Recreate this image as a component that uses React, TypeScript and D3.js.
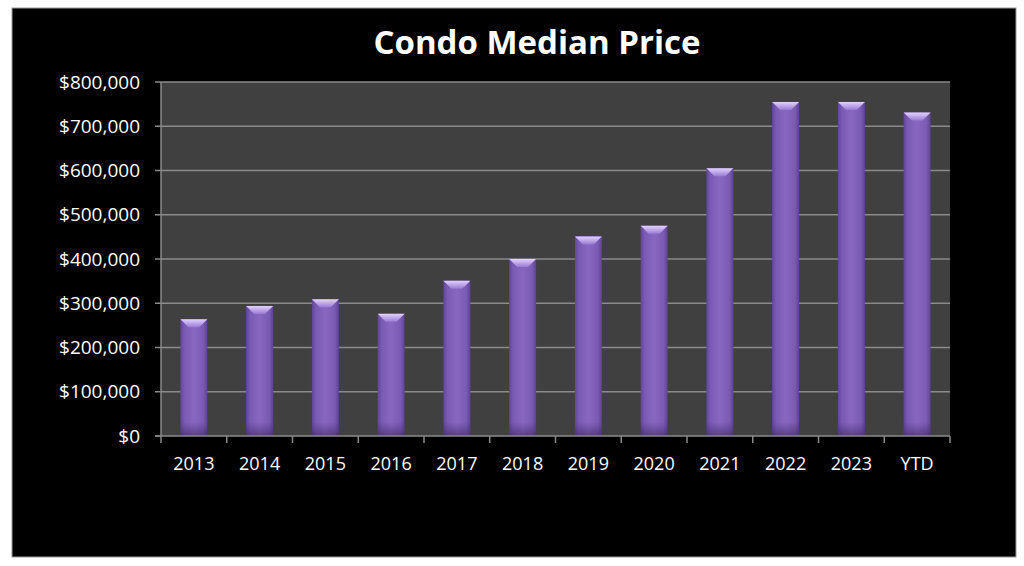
import React, { useRef, useEffect } from "react";
import * as d3 from "d3";

const categories = ["2013", "2014", "2015", "2016", "2017", "2018", "2019", "2020", "2021", "2022", "2023", "YTD"];
const medianPrice = [264000, 294000, 309000, 276000, 351000, 400000, 451000, 475000, 605000, 755000, 755000, 731000];
const yTickValues = [0, 100000, 200000, 300000, 400000, 500000, 600000, 700000, 800000];

const W = 1024;
const H = 566;
const plot = { left: 161, right: 950, top: 82, bottom: 436 };
const FONT = "'Open Sans', sans-serif";

const App: React.FC = () => {
  const svgRef = useRef<SVGSVGElement>(null);

  useEffect(() => {
    if (!svgRef.current) return;
    const svg = d3.select(svgRef.current);
    svg.selectAll("*").remove();

    const defs = svg.append("defs");
    const body = defs
      .append("linearGradient")
      .attr("id", "barBody")
      .attr("x1", "0")
      .attr("x2", "1")
      .attr("y1", "0")
      .attr("y2", "0");
    body.append("stop").attr("offset", "0").attr("stop-color", "#62449a");
    body.append("stop").attr("offset", "0.15").attr("stop-color", "#7a5bb4");
    body.append("stop").attr("offset", "0.5").attr("stop-color", "#8867c0");
    body.append("stop").attr("offset", "0.85").attr("stop-color", "#7a5bb4");
    body.append("stop").attr("offset", "1").attr("stop-color", "#5e4294");

    const top = defs
      .append("linearGradient")
      .attr("id", "barTop")
      .attr("x1", "0")
      .attr("x2", "0")
      .attr("y1", "0")
      .attr("y2", "1");
    top.append("stop").attr("offset", "0").attr("stop-color", "#e2d2ff");
    top.append("stop").attr("offset", "1").attr("stop-color", "#9a7ad2");

    const base = defs
      .append("linearGradient")
      .attr("id", "barBase")
      .attr("x1", "0")
      .attr("x2", "0")
      .attr("y1", "0")
      .attr("y2", "1");
    base.append("stop").attr("offset", "0").attr("stop-color", "#3a2660").attr("stop-opacity", 0);
    base.append("stop").attr("offset", "1").attr("stop-color", "#3a2660").attr("stop-opacity", 0.6);

    // white page + black chart area
    svg.append("rect").attr("width", W).attr("height", H).attr("fill", "#fff");
    svg
      .append("rect")
      .attr("x", 12)
      .attr("y", 8)
      .attr("width", 1004)
      .attr("height", 549)
      .attr("fill", "#000")
      .attr("stroke", "#9a9a9a")
      .attr("stroke-width", 1);

    const x = d3
      .scaleBand<string>()
      .domain(categories)
      .range([plot.left, plot.right])
      .paddingInner(0.59)
      .paddingOuter(0.295);

    const y = d3.scaleLinear().domain([0, 800000]).range([plot.bottom, plot.top]);

    // plot background
    svg
      .append("rect")
      .attr("x", plot.left)
      .attr("y", plot.top)
      .attr("width", plot.right - plot.left)
      .attr("height", plot.bottom - plot.top)
      .attr("fill", "#404040");

    // gridlines
    svg
      .append("g")
      .selectAll("line")
      .data(yTickValues.filter((v) => v > 0))
      .join("line")
      .attr("x1", plot.left)
      .attr("x2", plot.right)
      .attr("y1", (d) => y(d))
      .attr("y2", (d) => y(d))
      .attr("stroke", "#8a8a8a")
      .attr("stroke-width", 1.5);

    // bars
    const bars = svg
      .append("g")
      .selectAll("g")
      .data(medianPrice)
      .join("g");

    const bw = x.bandwidth();
    bars
      .append("rect")
      .attr("x", (_, i) => x(categories[i])!)
      .attr("y", (d) => y(d))
      .attr("width", bw)
      .attr("height", (d) => plot.bottom - y(d))
      .attr("fill", "url(#barBody)");

    bars
      .append("rect")
      .attr("x", (_, i) => x(categories[i])!)
      .attr("y", plot.bottom - 14)
      .attr("width", bw)
      .attr("height", 14)
      .attr("fill", "url(#barBase)");

    // bevelled top
    bars
      .append("polygon")
      .attr("points", (d, i) => {
        const x0 = x(categories[i])!;
        const x1 = x0 + bw;
        const y0 = y(d);
        const h = 8;
        const inset = bw * 0.3;
        return [
          [x0, y0],
          [x1, y0],
          [x1 - inset, y0 + h],
          [x0 + inset, y0 + h],
        ]
          .map((p) => p.join(","))
          .join(" ");
      })
      .attr("fill", "url(#barTop)");

    // axes lines
    svg
      .append("line")
      .attr("x1", plot.left)
      .attr("x2", plot.left)
      .attr("y1", plot.top)
      .attr("y2", plot.bottom)
      .attr("stroke", "#8a8a8a")
      .attr("stroke-width", 1.5);
    svg
      .append("line")
      .attr("x1", plot.left - 6)
      .attr("x2", plot.right)
      .attr("y1", plot.bottom)
      .attr("y2", plot.bottom)
      .attr("stroke", "#8a8a8a")
      .attr("stroke-width", 1.5);

    // y ticks + labels
    const fmt = d3.format(",");
    const yt = svg.append("g").selectAll("g").data(yTickValues).join("g");
    yt.append("line")
      .attr("x1", plot.left - 6)
      .attr("x2", plot.left)
      .attr("y1", (d) => y(d))
      .attr("y2", (d) => y(d))
      .attr("stroke", "#8a8a8a")
      .attr("stroke-width", 1.5);
    yt.append("text")
      .attr("x", plot.left - 21)
      .attr("y", (d) => y(d))
      .attr("dy", "0.35em")
      .attr("text-anchor", "end")
      .attr("fill", "#fff")
      .style("font-family", FONT)
      .style("font-size", "19px")
      .text((d) => `$${fmt(d)}`);

    // x ticks + labels
    const step = x.step();
    const bounds = d3.range(categories.length + 1).map((i) => plot.left + i * step);
    svg
      .append("g")
      .selectAll("line")
      .data(bounds)
      .join("line")
      .attr("x1", (d) => d)
      .attr("x2", (d) => d)
      .attr("y1", plot.bottom)
      .attr("y2", plot.bottom + 7)
      .attr("stroke", "#8a8a8a")
      .attr("stroke-width", 1.5);

    svg
      .append("g")
      .selectAll("text")
      .data(categories)
      .join("text")
      .attr("x", (d) => x(d)! + bw / 2)
      .attr("y", 464)
      .attr("dy", "0.35em")
      .attr("text-anchor", "middle")
      .attr("fill", "#fff")
      .style("font-family", FONT)
      .style("font-size", "18px")
      .text((d) => d);

    // title
    svg
      .append("text")
      .attr("x", 537)
      .attr("y", 42)
      .attr("dy", "0.35em")
      .attr("text-anchor", "middle")
      .attr("fill", "#fff")
      .style("font-family", FONT)
      .style("font-weight", "700")
      .style("font-size", "33px")
      .text("Condo Median Price");
  }, []);

  return (
    <svg
      ref={svgRef}
      width={W}
      height={H}
      style={{ position: "absolute", left: 0, top: 0 }}
    />
  );
};

export default App;
